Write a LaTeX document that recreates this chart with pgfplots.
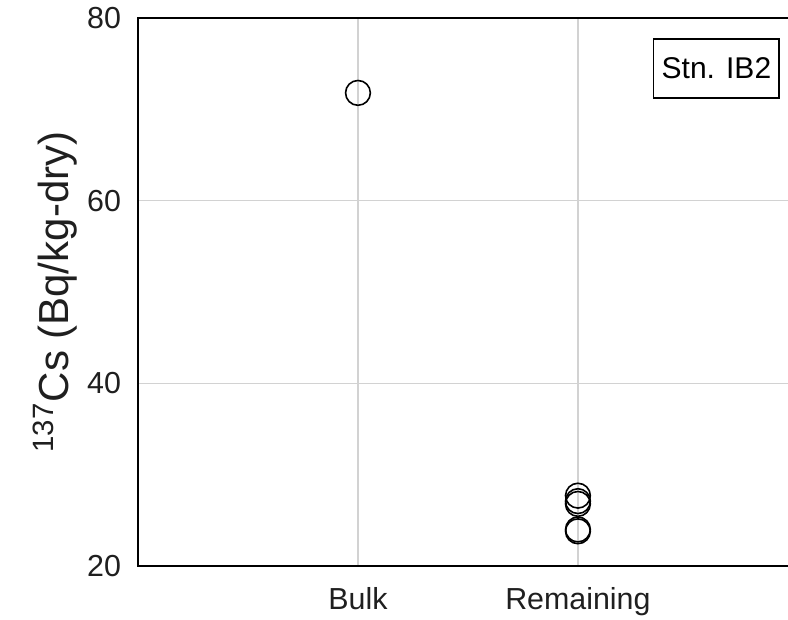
\documentclass[border=0pt]{standalone}
\usepackage{pgfplots}
\pgfplotsset{compat=1.18}
\usepackage{fontspec}
\setmainfont{Liberation Sans}
\definecolor{gridgray}{RGB}{210,210,210}
\begin{document}
\begin{tikzpicture}
\begin{axis}[
  name=ax,
  at={(0,0)}, anchor=south west,
  scale only axis,
  width=325pt, height=274pt,
  xmin=0, xmax=2.955,
  ymin=20, ymax=80,
  xtick={1,2}, xticklabels={Bulk,Remaining},
  ytick={20,40,60,80},
  grid=major,
  major grid style={gridgray, line width=0.6pt},
  axis line style={draw=none},
  major tick length=0pt,
  tick label style={font=\fontsize{15.2}{17}\selectfont, text=black!88},
  /pgf/number format/assume math mode=true,
  xticklabel style={yshift=-7pt},
  yticklabel style={xshift=-5pt},
  ylabel={\textsuperscript{137}Cs (Bq/kg-dry)},
  ylabel style={font=\fontsize{21}{25}\selectfont, text=black!88, yshift=-2pt},
  clip=false,
]
\addplot[only marks, mark=o, mark size=6.2pt, mark options={line width=0.8pt, draw=black}] coordinates {
  (1,71.8)
  (2,27.7) (2,27.1) (2,26.8) (2,24.0) (2,23.8)
};
\draw[black, line width=0.8pt] (rel axis cs:1,1) -- (rel axis cs:0,1) -- (rel axis cs:0,0) -- (rel axis cs:1,0);
\node[draw=black, line width=0.8pt, anchor=north east, inner sep=4pt, font=\fontsize{15}{17}\selectfont, minimum height=29.5pt] at ([xshift=-4pt,yshift=-10pt]rel axis cs:1,1) {Stn. IB2};
\end{axis}
\pgfresetboundingbox
\path (-69pt,-27pt) rectangle (325pt,283pt);
\end{tikzpicture}
\end{document}
